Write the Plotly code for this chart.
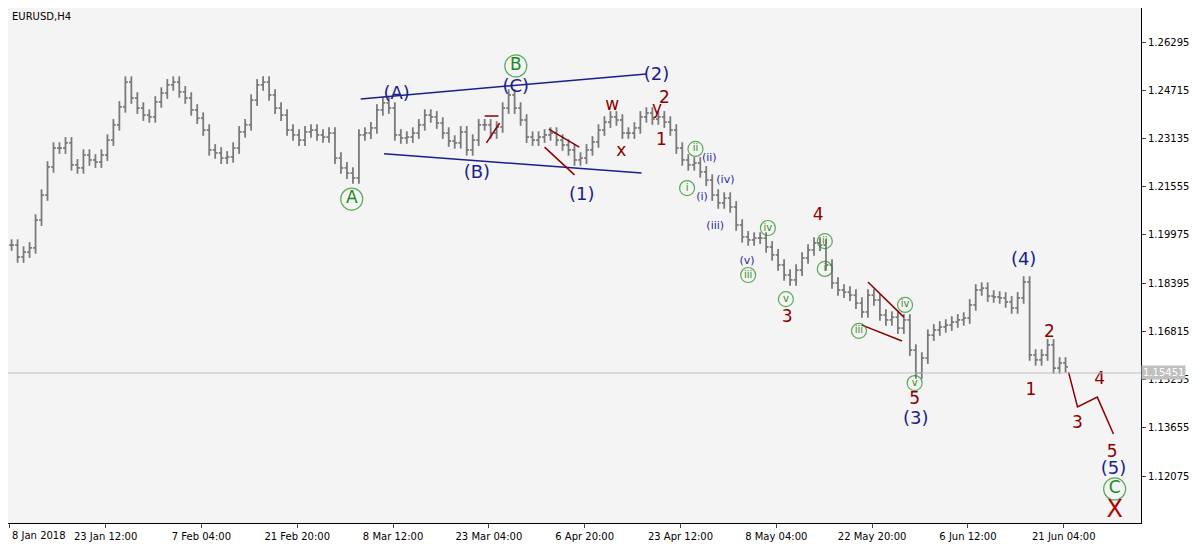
import plotly.graph_objects as go

# ---- data (bar index, price) ----
mids = [1.1964,1.1925,1.1941,1.1955,1.2046,1.2128,1.2220,1.2282,1.2282,1.2299,
1.2227,1.2217,1.2259,1.2243,1.2236,1.2259,1.2308,1.2358,1.2417,1.2498,
1.2446,1.2413,1.2390,1.2384,1.2433,1.2462,1.2489,1.2498,1.2466,1.2446,
1.2407,1.2380,1.2341,1.2276,1.2266,1.2249,1.2253,1.2282,1.2335,1.2358,
1.2439,1.2489,1.2498,1.2456,1.2413,1.2390,1.2341,1.2325,1.2308,1.2335,
1.2341,1.2325,1.2318,1.2331,1.2249,1.2217,1.2200,1.2184,1.2325,1.2331,
1.2348,1.2407,1.2430,1.2413,1.2325,1.2315,1.2318,1.2331,1.2358,1.2390,
1.2384,1.2364,1.2331,1.2305,1.2299,1.2335,1.2276,1.2308,1.2358,1.2358,
1.2331,1.2351,1.2413,1.2456,1.2413,1.2374,1.2318,1.2308,1.2318,1.2325,
1.2331,1.2308,1.2292,1.2276,1.2243,1.2249,1.2276,1.2302,1.2341,1.2367,
1.2384,1.2374,1.2331,1.2331,1.2348,1.2384,1.2397,1.2377,1.2384,1.2367,
1.2341,1.2282,1.2243,1.2227,1.2233,1.2204,1.2177,1.2128,1.2102,1.2118,
1.2089,1.2030,1.1991,1.1981,1.1987,1.1987,1.1958,1.1932,1.1899,1.1866,
1.1850,1.1882,1.1922,1.1948,1.1971,1.1964,1.1899,1.1840,1.1817,1.1810,
1.1800,1.1774,1.1745,1.1800,1.1784,1.1735,1.1719,1.1728,1.1692,1.1719,
1.1620,1.1545,1.1594,1.1669,1.1686,1.1696,1.1702,1.1712,1.1719,1.1725,
1.1768,1.1817,1.1823,1.1797,1.1794,1.1791,1.1778,1.1758,1.1791,1.1843,
1.1604,1.1588,1.1604,1.1637,1.1561,1.1578,1.1565]
current_price = 1.15451

x_tick_vals = [-0.3,15.7,31.7,47.7,63.7,79.7,95.7,111.7,127.7,143.7,159.7,175.7]
x_tick_text = ["8 Jan 2018","23 Jan 12:00","7 Feb 04:00","21 Feb 20:00","8 Mar 12:00",
               "23 Mar 04:00","6 Apr 20:00","23 Apr 12:00","8 May 04:00","22 May 20:00",
               "6 Jun 12:00","21 Jun 04:00"]
y_tick_vals = [1.26295,1.24715,1.23135,1.21555,1.19975,1.18395,1.16815,1.15235,1.13655,1.12075]

circ_text = ["A","B","C","i","ii","i","ii","iii","iv","v","iii","iv","v"]
circ_x = [56.8,84.2,184.2,112.8,114.2,135.8,135.8,123.0,126.3,129.3,141.5,149.2,150.8]
circ_y = [1.2115,1.2551,1.1165,1.2151,1.2279,1.1886,1.1977,1.1866,1.2020,1.1787,1.1683,1.1768,1.1512]
circ_big = [True,True,True]+[False]*10

blue_text = ["(A)","(B)","(C)","(1)","(2)","(3)","(4)","(5)"]
blue_x = [64.3,77.7,84.2,95.2,107.7,151.0,169.0,184.0]
blue_y = [1.2456,1.2200,1.2482,1.2128,1.2521,1.1391,1.1915,1.1230]
bsmall_text = ["(i)","(ii)","(iii)","(iv)","(v)"]
bsmall_x = [115.3,116.5,117.5,119.2,122.8]
bsmall_y = [1.2122,1.2249,1.2027,1.2177,1.1912]

red_text = ["w","x","y","2","1","3","4","5","1","2","3","4","5"]
red_x = [100.3,101.8,107.8,109.0,108.5,129.5,134.7,150.8,170.2,173.3,178.0,181.7,183.8]
red_y = [1.2420,1.2269,1.2407,1.2443,1.2305,1.1725,1.2059,1.1457,1.1486,1.1676,1.1378,1.1522,1.1283]
bigx_x, bigx_y = 184.2, 1.1093

blue_lines = [((58.3,1.2443),(106.0,1.2525)),((62.2,1.2263),(105.2,1.2200))]
red_lines = [((79.3,1.2299),(81.5,1.2364)),((79.0,1.2387),(81.3,1.2387)),
             ((89.7,1.2344),(94.8,1.2285)),((89.0,1.2285),(94.0,1.2194)),
             ((143.0,1.1843),(149.0,1.1728)),((142.0,1.1702),(148.7,1.1650))]
proj_x = [176.5,178.0,181.3,184.0]
proj_y = [1.1548,1.1434,1.1466,1.1345]

NAVY = "#1b1f8a"; DRED = "#8b0000"; GREEN = "#1a8a1a"

fig = go.Figure()
bx, by = [], []
for i, m in enumerate(mids):
    o = mids[i-1] if i > 0 else m
    hi = max(o, m) + 0.0019
    lo = min(o, m) - 0.0019
    bx += [i, i, None]; by += [lo, hi, None]
    bx += [i-0.4, i, None]; by += [o, o, None]
    bx += [i, i+0.4, None]; by += [m, m, None]
fig.add_trace(go.Scatter(x=bx, y=by, mode="lines", line=dict(color="#7a7a7a", width=1.8),
                         hoverinfo="skip", showlegend=False))

for (a, b) in blue_lines:
    fig.add_trace(go.Scatter(x=[a[0], b[0]], y=[a[1], b[1]], mode="lines",
                             line=dict(color=NAVY, width=1.5), showlegend=False))
for (a, b) in red_lines:
    fig.add_trace(go.Scatter(x=[a[0], b[0]], y=[a[1], b[1]], mode="lines",
                             line=dict(color=DRED, width=1.5), showlegend=False))
fig.add_trace(go.Scatter(x=proj_x, y=proj_y, mode="lines", line=dict(color=DRED, width=1.5),
                         showlegend=False))

fig.add_trace(go.Scatter(x=circ_x, y=circ_y, mode="markers+text", text=circ_text,
    marker=dict(symbol="circle-open", size=[22 if b else 15 for b in circ_big],
                color=GREEN, line=dict(width=1.2)),
    textfont=dict(color=[GREEN if b else "#3a8a2a" for b in circ_big],
                  size=[17 if b else 10 for b in circ_big], family="DejaVu Sans"),
    textposition="middle center", showlegend=False))
fig.add_trace(go.Scatter(x=blue_x, y=blue_y, mode="text", text=blue_text,
    textfont=dict(color=NAVY, size=18, family="DejaVu Sans"), showlegend=False))
fig.add_trace(go.Scatter(x=bsmall_x, y=bsmall_y, mode="text", text=bsmall_text,
    textfont=dict(color="#2a2aa0", size=11, family="DejaVu Sans"), showlegend=False))
fig.add_trace(go.Scatter(x=red_x, y=red_y, mode="text", text=red_text,
    textfont=dict(color=DRED, size=17, family="DejaVu Sans"), showlegend=False))
fig.add_trace(go.Scatter(x=[bigx_x], y=[bigx_y], mode="text", text=["X"],
    textfont=dict(color="#b00000", size=24, family="DejaVu Sans"), showlegend=False))

fig.add_shape(type="line", xref="paper", x0=0, x1=1, y0=current_price, y1=current_price,
              line=dict(color="#c0c0c0", width=1))
fig.add_annotation(xref="paper", x=1.0, y=current_price, xanchor="left", text=f"{current_price:.5f}",
                   showarrow=False, bgcolor="#c0c0c0", font=dict(color="white", size=10, family="DejaVu Sans"),
                   borderpad=1)
fig.add_annotation(xref="paper", yref="paper", x=0.002, y=0.998, xanchor="left", yanchor="top",
                   text="EURUSD,H4", showarrow=False, font=dict(size=10, color="black", family="DejaVu Sans"))
# first date label placed left-aligned so it is not dropped at the edge
fig.add_annotation(x=x_tick_vals[0], yref="paper", y=0, yshift=-5, xanchor="left", yanchor="top",
                   text=x_tick_text[0], showarrow=False,
                   font=dict(size=10, color="black", family="DejaVu Sans"))
tick_text_shown = [""] + x_tick_text[1:]

fig.update_layout(
    width=1192, height=536, margin=dict(l=0, r=59, t=0, b=21, autoexpand=False),
    paper_bgcolor="white", plot_bgcolor="#f4f4f4",
    xaxis=dict(range=[-0.6, 188.6], tickvals=x_tick_vals, ticktext=tick_text_shown, automargin=False,
               showgrid=False, zeroline=False, ticks="outside", ticklen=4,
               showline=True, linecolor="black", mirror=True,
               tickfont=dict(size=10, family="DejaVu Sans", color="black")),
    yaxis=dict(range=[1.10535, 1.27409], side="right", tickvals=y_tick_vals, automargin=False,
               ticktext=[f"{v:.5f}" for v in y_tick_vals], showgrid=False, zeroline=False,
               ticks="outside", ticklen=4, showline=True, linecolor="black", mirror=True,
               tickfont=dict(size=10, family="DejaVu Sans", color="black")),
)
fig.write_html("out.html")
